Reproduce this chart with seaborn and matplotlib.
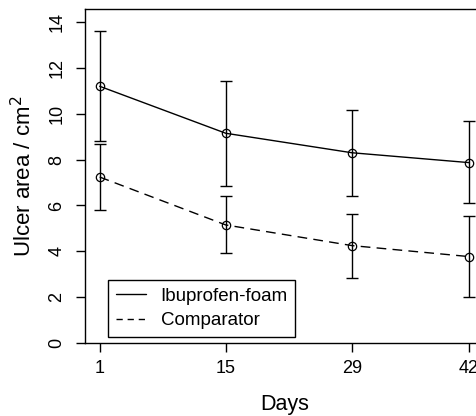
import seaborn as sns
import matplotlib.pyplot as plt
import pandas as pd

sns.set_style('ticks')
plt.rcParams['font.family'] = ['Liberation Sans', 'DejaVu Sans']
plt.rcParams['text.color'] = 'black'
plt.rcParams['axes.labelcolor'] = 'black'
plt.rcParams['xtick.color'] = 'black'
plt.rcParams['ytick.color'] = 'black'

days = [1, 15, 29, 42]
ibu_mean = [11.2, 9.15, 8.3, 7.87]
ibu_low = [8.8, 6.86, 6.42, 6.09]
ibu_high = [13.62, 11.44, 10.17, 9.7]
comp_mean = [7.24, 5.15, 4.25, 3.77]
comp_low = [5.8, 3.91, 2.83, 2.02]
comp_high = [8.68, 6.42, 5.63, 5.54]
groups = ['Ibuprofen-foam', 'Comparator']

df = pd.DataFrame({
    'day': days * 2,
    'area': ibu_mean + comp_mean,
    'group': [groups[0]] * 4 + [groups[1]] * 4,
})

fig = plt.figure(figsize=(4.77, 4.16), dpi=100)
ax = fig.add_axes([0.178, 0.1755, 0.836, 0.8028])

sns.lineplot(data=df, x='day', y='area', style='group', color='black',
             dashes={groups[0]: '', groups[1]: (7, 4.5)}, lw=1, ax=ax,
             marker='o', markersize=6, markerfacecolor='none',
             markeredgecolor='black', markeredgewidth=0.9)

for m, lo, hi in [(ibu_mean, ibu_low, ibu_high), (comp_mean, comp_low, comp_high)]:
    err = [[a - b for a, b in zip(m, lo)], [b - a for a, b in zip(m, hi)]]
    ax.errorbar(days, m, yerr=err, fmt='none', ecolor='black', elinewidth=1,
                capsize=4.5, capthick=1)

ax.set_xlim(-0.64, 43.64)
ax.set_ylim(0, 14.57)
ax.set_xticks(days)
ax.set_yticks(range(0, 15, 2))
ax.tick_params(labelsize=13, length=6.5, width=1, color='black')
ax.tick_params(axis='y', pad=7.5)
ax.tick_params(axis='x', pad=6)
for lab in ax.get_yticklabels():
    lab.set_rotation(90)
    lab.set_va('center')
ax.set_xlabel('Days', fontsize=15.5, labelpad=12)
ax.set_ylabel('Ulcer area / cm$^2$', fontsize=16, labelpad=9)
for s in ax.spines.values():
    s.set_linewidth(1)
    s.set_color('black')

leg = ax.legend(loc='lower left', bbox_to_anchor=(0.058, 0.018), fontsize=13.5,
                frameon=True, fancybox=False, edgecolor='black', framealpha=1,
                handlelength=1.6, handletextpad=0.8, borderpad=0.4,
                labelspacing=0.4, borderaxespad=0)
leg.get_frame().set_linewidth(1)
for h in leg.get_lines():
    h.set_marker('')
leg.get_lines()[1].set_dashes((4.5, 3.5))

fig.savefig('out.png', dpi=100)
